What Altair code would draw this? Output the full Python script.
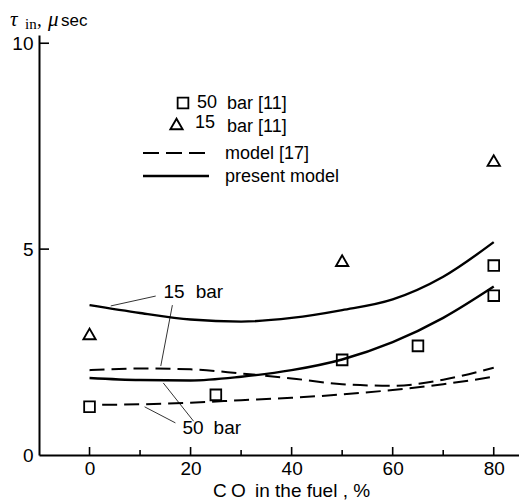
import altair as alt
import pandas as pd

# ---------------- data ----------------
curve_x = [0, 10, 20, 30, 40, 50, 60, 70, 80]
solid_15 = [3.64, 3.45, 3.29, 3.24, 3.33, 3.52, 3.78, 4.33, 5.17]
solid_50 = [1.87, 1.82, 1.81, 1.90, 2.06, 2.32, 2.74, 3.33, 4.09]
dashed_15 = [2.06, 2.10, 2.08, 1.98, 1.86, 1.72, 1.68, 1.83, 2.12]
dashed_50_x = [2.5, 10, 20, 30, 40, 50, 60, 70, 80]
dashed_50 = [1.22, 1.23, 1.27, 1.33, 1.39, 1.47, 1.58, 1.72, 1.90]

sq_x = [0, 25, 50, 65, 80, 80]
sq_y = [1.17, 1.46, 2.31, 2.65, 4.60, 3.87]
tri_x = [0, 50, 80]
tri_y = [2.94, 4.72, 7.15]

x_tick_labels = [0, 20, 40, 60, 80]
x_minor = [10, 30, 50, 70]
y_tick_labels = [0, 5, 10]

# annotation leaders (data units)
lead_x = [4.2, 16.4, 10.9, 14.6]
lead_y = [3.62, 3.64, 1.17, 1.75]
lead_x2 = [13.1, 14.1, 17.0, 20.6]
lead_y2 = [3.86, 2.16, 0.78, 0.82]
label_text = ["15", "bar", "50", "bar"]
label_x = [14.65, 21.0, 18.4, 24.55]
label_y = [3.96, 3.96, 0.655, 0.655]

# ---------------- tables ----------------
solid_df = pd.DataFrame({"x": curve_x * 2, "y": solid_15 + solid_50,
                         "s": ["15"] * 9 + ["50"] * 9})
dash_df = pd.DataFrame({"x": curve_x + dashed_50_x, "y": dashed_15 + dashed_50,
                        "s": ["15"] * 9 + ["50"] * 9})
sq_df = pd.DataFrame({"x": sq_x, "y": sq_y})
tri_df = pd.DataFrame({"x": tri_x, "y": tri_y})
lead_df = pd.DataFrame({"x": lead_x, "y": lead_y, "x2": lead_x2, "y2": lead_y2})
lab_df = pd.DataFrame({"x": label_x, "y": label_y, "t": label_text})
xmaj_df = pd.DataFrame({"x": x_tick_labels})
xmin_df = pd.DataFrame({"x": x_minor})
ytk_df = pd.DataFrame({"y": [5, 10]})

xscale = alt.Scale(domain=[-10, 85], nice=False, zero=False)
yscale = alt.Scale(domain=[0, 10.2], nice=False, zero=False)
xaxis = alt.Axis(values=x_tick_labels, ticks=False, grid=False, domainColor="black",
                 domainWidth=2, labelFont="Liberation Sans", labelFontSize=19,
                 labelColor="black", labelPadding=4, title=None, labelFlush=False)
yaxis = alt.Axis(values=y_tick_labels, ticks=False, grid=False, domainColor="black",
                 domainWidth=2, labelFont="Liberation Sans", labelFontSize=19,
                 labelColor="black", labelPadding=6, title=None, format="d")


def X(f="x"):
    return alt.X(f"{f}:Q", scale=xscale, axis=xaxis)


def Y(f="y"):
    return alt.Y(f"{f}:Q", scale=yscale, axis=yaxis)


solid = alt.Chart(solid_df).mark_line(color="black", strokeWidth=2.4,
                                      interpolate="monotone").encode(
    x=X(), y=Y(), detail="s:N")
dashed = alt.Chart(dash_df).mark_line(color="black", strokeWidth=2,
                                      strokeDash=[15, 7],
                                      interpolate="monotone").encode(
    x=X(), y=Y(), detail="s:N")
squares = alt.Chart(sq_df).mark_point(shape="square", size=115, filled=False,
                                      color="black", strokeWidth=1.8, opacity=1).encode(
    x=X(), y=Y())
tris = alt.Chart(tri_df).mark_point(shape="triangle-up", size=150, filled=False,
                                    color="black", strokeWidth=1.9, opacity=1).encode(
    x=X(), y=Y())
leads = alt.Chart(lead_df).mark_rule(color="black", strokeWidth=0.8).encode(
    x=X(), y=Y(), x2="x2:Q", y2="y2:Q")
labs = alt.Chart(lab_df).mark_text(align="left", baseline="middle", font="Liberation Sans",
                                   fontSize=19, color="black").encode(
    x=X(), y=Y(), text="t:N")

xmaj = alt.Chart(xmaj_df).mark_rule(color="black", strokeWidth=1.6).encode(
    x=X(), y=alt.value(420), y2=alt.value(412))
xmin = alt.Chart(xmin_df).mark_rule(color="black", strokeWidth=1.6).encode(
    x=X(), y=alt.value(420), y2=alt.value(415))
ytk = alt.Chart(ytk_df).mark_rule(color="black", strokeWidth=1.6).encode(
    y=Y(), x=alt.value(0), x2=alt.value(10))

# ---------------- legend (pixel layout) ----------------
one = pd.DataFrame({"a": [0]})


def txt(t, x, y, size=18, font="Liberation Sans", style="normal", align="left"):
    return alt.Chart(one).mark_text(text=t, align=align, baseline="alphabetic", font=font,
                                    fontSize=size, fontStyle=style, color="black").encode(
        x=alt.value(x), y=alt.value(y))


leg_sq = alt.Chart(one).mark_point(shape="square", size=115, filled=False, color="black",
                                   strokeWidth=1.8, opacity=1).encode(
    x=alt.value(144), y=alt.value(68))
leg_tri = alt.Chart(one).mark_point(shape="triangle-up", size=150, filled=False,
                                    color="black", strokeWidth=1.9, opacity=1).encode(
    x=alt.value(137.5), y=alt.value(89))
leg_dash = alt.Chart(one).mark_rule(color="black", strokeWidth=2, strokeDash=[16, 7]).encode(
    x=alt.value(104), x2=alt.value(170), y=alt.value(118))
leg_solid = alt.Chart(one).mark_rule(color="black", strokeWidth=2.4).encode(
    x=alt.value(104), x2=alt.value(170), y=alt.value(141))

legend = [
    leg_sq, leg_tri, leg_dash, leg_solid,
    txt("50", 158, 73), txt("bar [11]", 188, 74),
    txt("15", 156, 93), txt("bar [11]", 188, 97),
    txt("model [17]", 186, 124), txt("present model", 186, 147),
]

# ---------------- titles ----------------
titles = [
    txt("τ", -29, -9, size=21, font="Liberation Serif", style="italic"),
    txt("in", -14, -6, size=15, font="Liberation Serif"),
    txt(",", -2, -9, size=19, font="Liberation Serif"),
    txt("μ", 9, -9, size=21, font="Liberation Serif", style="italic"),
    txt("sec", 22, -9, size=17),
    txt("C", 174, 462, size=19),
    txt("O", 192, 462, size=19),
    txt("in the fuel , %", 216, 462, size=19),
]

chart = alt.layer(xmaj, xmin, ytk, dashed, solid, squares, tris, leads, labs,
                  *legend, *titles).properties(
    width=480, height=420,
    autosize=alt.AutoSizeParams(type="none"),
    padding={"left": 39, "top": 35, "right": 0, "bottom": 47},
    background="white",
).configure_view(stroke=None)

chart.save("out.html", embed_options={"renderer": "svg", "actions": False})
